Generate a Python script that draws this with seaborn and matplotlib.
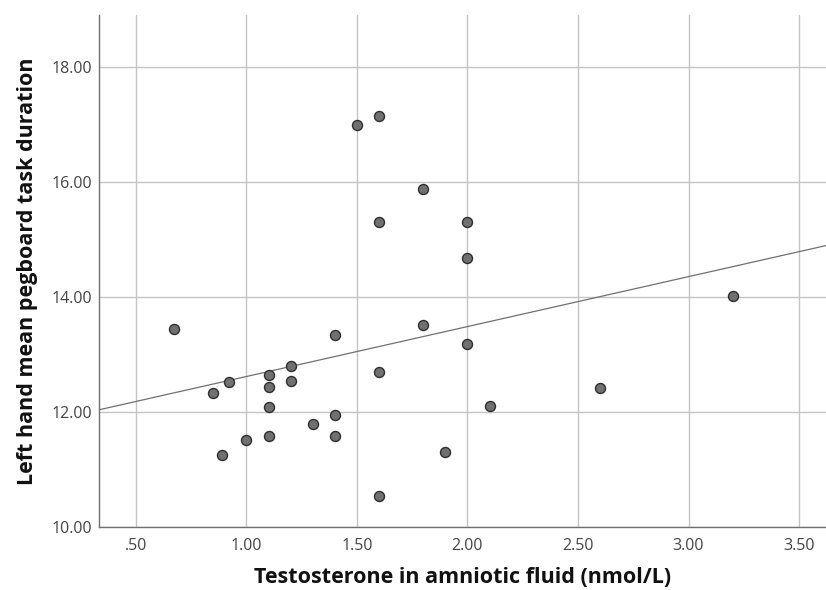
import matplotlib

matplotlib.use("Agg")
import matplotlib.pyplot as plt  # noqa: E402
import pandas as pd  # noqa: E402
import seaborn as sns  # noqa: E402

# data
testosterone = [0.67, 0.85, 0.89, 0.92, 1.00,
                1.10, 1.10, 1.10, 1.10, 1.20, 1.20, 1.30,
                1.40, 1.40, 1.40, 1.50, 1.60, 1.60, 1.60, 1.60,
                1.80, 1.80, 1.90, 2.00, 2.00, 2.00, 2.10, 2.60, 3.20]
pegboard_left = [13.44, 12.33, 11.25, 12.52, 11.51,
                 12.64, 12.43, 12.09, 11.58, 12.80, 12.54, 11.79,
                 13.34, 11.95, 11.58, 16.98, 17.14, 15.30, 12.70, 10.53,
                 15.88, 13.51, 11.30, 15.30, 14.67, 13.18, 12.11, 12.42, 14.01]
x_ticks = [0.5, 1.0, 1.5, 2.0, 2.5, 3.0, 3.5]
x_tick_labels = [".50", "1.00", "1.50", "2.00", "2.50", "3.00", "3.50"]
y_ticks = [10, 12, 14, 16, 18]
y_tick_labels = ["10.00", "12.00", "14.00", "16.00", "18.00"]

df = pd.DataFrame({"testosterone": testosterone, "pegboard": pegboard_left})

sns.set_style("white")
plt.rcParams["font.family"] = ["Open Sans", "DejaVu Sans"]

fig = plt.figure(figsize=(8.26, 5.9), dpi=100)
ax = fig.add_axes([0.1199, 0.1068, 0.8801, 0.8678])
# limits first so the fit line spans the whole axis (truncate=False)
ax.set_xlim(0.333, 3.622)
ax.set_ylim(10, 18.9)

sns.regplot(
    data=df, x="testosterone", y="pegboard", ax=ax, ci=None, truncate=False,
    scatter_kws=dict(s=52, color="#707070", edgecolor="#2e2e2e",
                     linewidths=1.0, alpha=1, zorder=3),
    line_kws=dict(color="#707070", lw=0.9, zorder=2),
)

ax.set_xlim(0.333, 3.622)
ax.set_ylim(10, 18.9)
ax.set_xticks(x_ticks, x_tick_labels)
ax.set_yticks(y_ticks, y_tick_labels)
ax.grid(True, color="#c4c4c4", lw=1.0)
ax.set_axisbelow(True)

for side in ("top", "right"):
    ax.spines[side].set_visible(False)
for side in ("left", "bottom"):
    ax.spines[side].set_color("#707070")
    ax.spines[side].set_linewidth(1.0)

ax.tick_params(axis="both", length=3, width=0.8, color="#707070",
               labelsize=11.5, labelcolor="#444444")
ax.tick_params(axis="y", pad=2)
ax.tick_params(axis="x", pad=5)

ax.set_xlabel("Testosterone in amniotic fluid (nmol/L)", fontsize=15.5,
              fontweight="bold", color="#111111", labelpad=9.5)
ax.set_ylabel("Left hand mean pegboard task duration", fontsize=15.5,
              fontweight="bold", color="#111111", labelpad=10)

fig.savefig("out.png", dpi=100)
plt.close(fig)
